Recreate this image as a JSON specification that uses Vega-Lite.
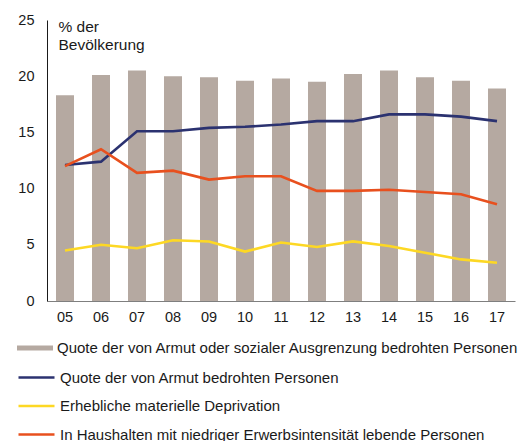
{
  "$schema": "https://vega.github.io/schema/vega-lite/v6.json",
  "autosize": "none",
  "width": 468,
  "height": 281,
  "padding": {"left": 47, "top": 20, "right": 9, "bottom": 140},
  "background": "white",
  "config": {
    "view": {"stroke": null},
    "font": "Liberation Sans",
    "axis": {"labelFont": "Liberation Sans", "labelFontSize": 14.5, "labelColor": "#1a1a1a", "grid": false, "ticks": false},
    "legend": {"labelFont": "Liberation Sans", "labelFontSize": 15, "labelColor": "#1a1a1a"}
  },
  "datasets": {
    "bars": [
      {"year": "05", "series": "Quote der von Armut oder sozialer Ausgrenzung bedrohten Personen", "value": 18.3},
      {"year": "06", "series": "Quote der von Armut oder sozialer Ausgrenzung bedrohten Personen", "value": 20.1},
      {"year": "07", "series": "Quote der von Armut oder sozialer Ausgrenzung bedrohten Personen", "value": 20.5},
      {"year": "08", "series": "Quote der von Armut oder sozialer Ausgrenzung bedrohten Personen", "value": 20.0},
      {"year": "09", "series": "Quote der von Armut oder sozialer Ausgrenzung bedrohten Personen", "value": 19.9},
      {"year": "10", "series": "Quote der von Armut oder sozialer Ausgrenzung bedrohten Personen", "value": 19.6},
      {"year": "11", "series": "Quote der von Armut oder sozialer Ausgrenzung bedrohten Personen", "value": 19.8},
      {"year": "12", "series": "Quote der von Armut oder sozialer Ausgrenzung bedrohten Personen", "value": 19.5},
      {"year": "13", "series": "Quote der von Armut oder sozialer Ausgrenzung bedrohten Personen", "value": 20.2},
      {"year": "14", "series": "Quote der von Armut oder sozialer Ausgrenzung bedrohten Personen", "value": 20.5},
      {"year": "15", "series": "Quote der von Armut oder sozialer Ausgrenzung bedrohten Personen", "value": 19.9},
      {"year": "16", "series": "Quote der von Armut oder sozialer Ausgrenzung bedrohten Personen", "value": 19.6},
      {"year": "17", "series": "Quote der von Armut oder sozialer Ausgrenzung bedrohten Personen", "value": 18.9}
    ],
    "lines": [
      {"year": "05", "series": "Quote der von Armut bedrohten Personen", "value": 12.1},
      {"year": "06", "series": "Quote der von Armut bedrohten Personen", "value": 12.4},
      {"year": "07", "series": "Quote der von Armut bedrohten Personen", "value": 15.1},
      {"year": "08", "series": "Quote der von Armut bedrohten Personen", "value": 15.1},
      {"year": "09", "series": "Quote der von Armut bedrohten Personen", "value": 15.4},
      {"year": "10", "series": "Quote der von Armut bedrohten Personen", "value": 15.5},
      {"year": "11", "series": "Quote der von Armut bedrohten Personen", "value": 15.7},
      {"year": "12", "series": "Quote der von Armut bedrohten Personen", "value": 16.0},
      {"year": "13", "series": "Quote der von Armut bedrohten Personen", "value": 16.0},
      {"year": "14", "series": "Quote der von Armut bedrohten Personen", "value": 16.6},
      {"year": "15", "series": "Quote der von Armut bedrohten Personen", "value": 16.6},
      {"year": "16", "series": "Quote der von Armut bedrohten Personen", "value": 16.4},
      {"year": "17", "series": "Quote der von Armut bedrohten Personen", "value": 16.0},
      {"year": "05", "series": "Erhebliche materielle Deprivation", "value": 4.5},
      {"year": "06", "series": "Erhebliche materielle Deprivation", "value": 5.0},
      {"year": "07", "series": "Erhebliche materielle Deprivation", "value": 4.7},
      {"year": "08", "series": "Erhebliche materielle Deprivation", "value": 5.4},
      {"year": "09", "series": "Erhebliche materielle Deprivation", "value": 5.3},
      {"year": "10", "series": "Erhebliche materielle Deprivation", "value": 4.4},
      {"year": "11", "series": "Erhebliche materielle Deprivation", "value": 5.2},
      {"year": "12", "series": "Erhebliche materielle Deprivation", "value": 4.8},
      {"year": "13", "series": "Erhebliche materielle Deprivation", "value": 5.3},
      {"year": "14", "series": "Erhebliche materielle Deprivation", "value": 4.9},
      {"year": "15", "series": "Erhebliche materielle Deprivation", "value": 4.3},
      {"year": "16", "series": "Erhebliche materielle Deprivation", "value": 3.7},
      {"year": "17", "series": "Erhebliche materielle Deprivation", "value": 3.4},
      {"year": "05", "series": "In Haushalten mit niedriger Erwerbsintensität lebende Personen", "value": 12.0},
      {"year": "06", "series": "In Haushalten mit niedriger Erwerbsintensität lebende Personen", "value": 13.5},
      {"year": "07", "series": "In Haushalten mit niedriger Erwerbsintensität lebende Personen", "value": 11.4},
      {"year": "08", "series": "In Haushalten mit niedriger Erwerbsintensität lebende Personen", "value": 11.6},
      {"year": "09", "series": "In Haushalten mit niedriger Erwerbsintensität lebende Personen", "value": 10.8},
      {"year": "10", "series": "In Haushalten mit niedriger Erwerbsintensität lebende Personen", "value": 11.1},
      {"year": "11", "series": "In Haushalten mit niedriger Erwerbsintensität lebende Personen", "value": 11.1},
      {"year": "12", "series": "In Haushalten mit niedriger Erwerbsintensität lebende Personen", "value": 9.8},
      {"year": "13", "series": "In Haushalten mit niedriger Erwerbsintensität lebende Personen", "value": 9.8},
      {"year": "14", "series": "In Haushalten mit niedriger Erwerbsintensität lebende Personen", "value": 9.9},
      {"year": "15", "series": "In Haushalten mit niedriger Erwerbsintensität lebende Personen", "value": 9.7},
      {"year": "16", "series": "In Haushalten mit niedriger Erwerbsintensität lebende Personen", "value": 9.5},
      {"year": "17", "series": "In Haushalten mit niedriger Erwerbsintensität lebende Personen", "value": 8.6}
    ]
  },
  "encoding": {
    "x": {
      "field": "year", "type": "ordinal",
      "scale": {"paddingInner": 0.5, "paddingOuter": 0.25},
      "axis": {"title": null, "labelAngle": 0, "labelPadding": 9, "domainColor": "#7f7f7f", "domainWidth": 1.2}
    },
    "y": {
      "field": "value", "type": "quantitative",
      "scale": {"domain": [0, 25], "nice": false},
      "axis": {
        "values": [0, 5, 10, 15, 20, 25],
        "labelPadding": 13,
        "domainColor": "#1a1a1a",
        "title": ["% der", "Bevölkerung"],
        "titleAngle": 0, "titleAlign": "left", "titleBaseline": "top",
        "titleX": 11, "titleY": -1,
        "titleFont": "Liberation Sans", "titleFontSize": 15.5, "titleFontWeight": "normal", "titleColor": "#1a1a1a",
        "titleLineHeight": 18
      }
    }
  },
  "layer": [
    {
      "data": {"name": "bars"},
      "mark": {"type": "bar"},
      "encoding": {
        "fill": {
          "field": "series", "type": "nominal",
          "scale": {"range": ["#b5a9a1"]},
          "legend": {
            "title": null, "orient": "none", "legendX": -22, "legendY": 318,
            "symbolType": "M-1.8,-0.25H1.8V0.25H-1.8Z", "symbolSize": 400,
            "symbolStrokeWidth": 0, "labelOffset": 12, "labelLimit": 600
          }
        }
      }
    },
    {
      "data": {"name": "lines"},
      "mark": {"type": "line", "strokeWidth": 2.6},
      "encoding": {
        "stroke": {
          "field": "series", "type": "nominal",
          "scale": {
            "domain": ["Quote der von Armut bedrohten Personen", "Erhebliche materielle Deprivation", "In Haushalten mit niedriger Erwerbsintensität lebende Personen"],
            "range": ["#2b3270", "#fdd824", "#e8501e"]
          },
          "legend": {
            "title": null, "orient": "none", "legendX": -22, "legendY": 346,
            "symbolType": "M-1.8,0H1.8", "symbolSize": 400, "symbolStrokeWidth": 2.5,
            "symbolFillColor": "transparent", "labelOffset": 12, "labelLimit": 600, "rowPadding": 8.5
          }
        }
      }
    }
  ]
}
